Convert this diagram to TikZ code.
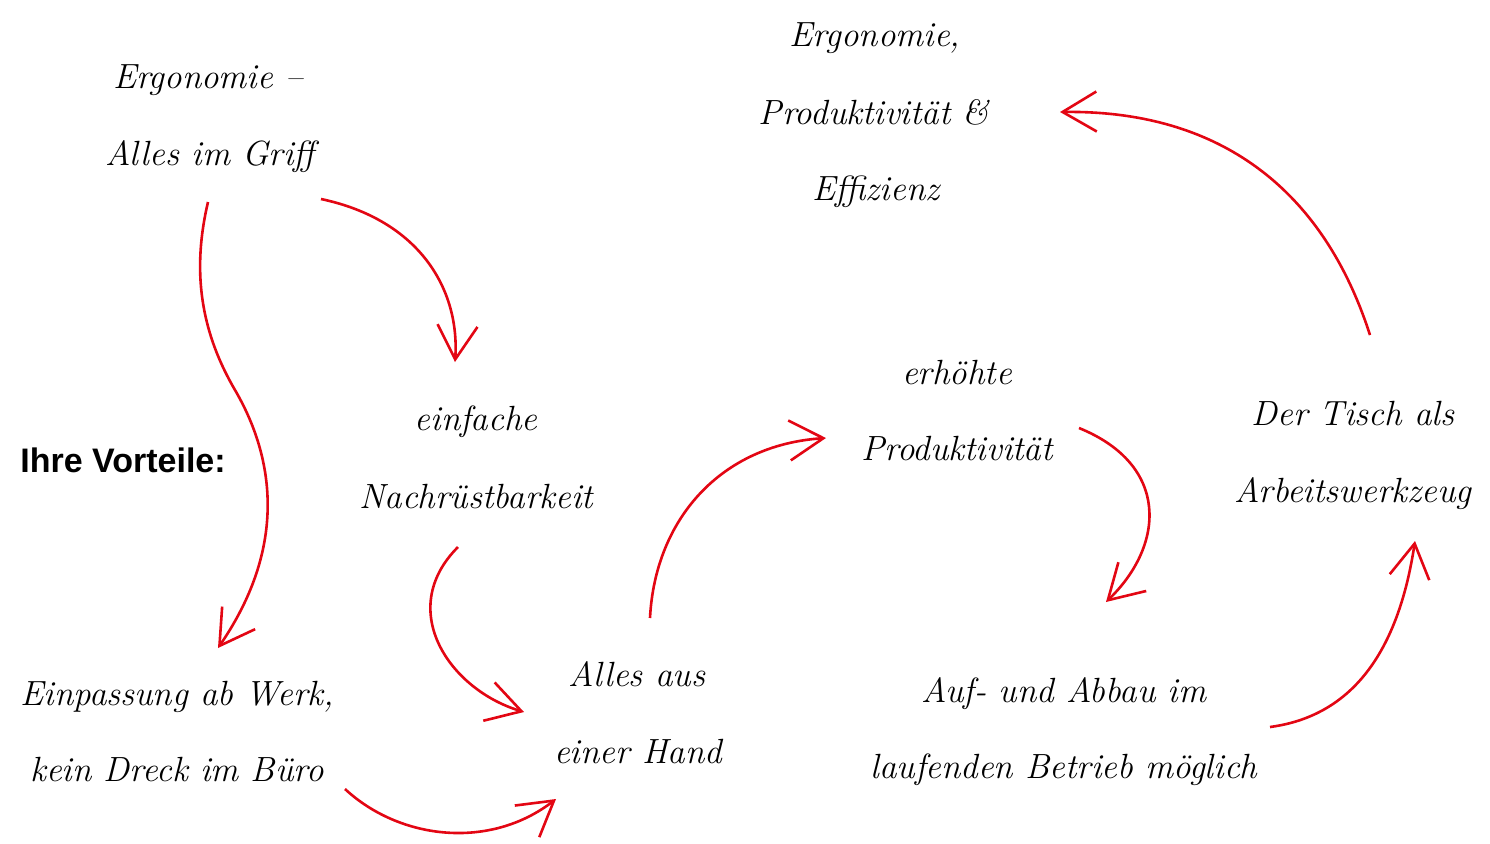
\documentclass[tikz,border=0pt]{standalone}
\usepackage{fontspec}
\newfontfamily\boldsans{Liberation Sans}
\usetikzlibrary{arrows.meta}
\definecolor{arrowred}{RGB}{227,6,19}
\tikzset{
  hand/.style={font=\fontsize{17.5}{22}\selectfont\itshape, anchor=base, inner sep=0pt},
  redarrow/.style={draw=arrowred, line width=1.3pt,
    -{Straight Barb[length=17pt,width=20pt,line width=1.3pt]}},
  label/.style={font=\fontsize{17}{20}\boldsans\bfseries, anchor=base west, inner sep=0pt}
}
\begin{document}
\begin{tikzpicture}[x=0.5pt,y=-0.5pt]
\useasboundingbox (0,0) rectangle (1490,843);
% texts
\node[hand] (ergo1) at (208,88) {Ergonomie --};
\node[hand] (ergo2) at (210,165) {Alles im Griff};
\node[hand] (prod1) at (875,46) {Ergonomie,};
\node[hand] (prod2) at (874,124) {Produktivität \&};
\node[hand] (prod3) at (876,200) {Effizienz};
\node[hand] (nach1) at (476,430) {einfache};
\node[hand] (nach2) at (476,508) {Nachrüstbarkeit};
\node[label] (vort) at (20,472) {Ihre Vorteile:};
\node[hand] (erh1) at (957,384) {erhöhte};
\node[hand] (erh2) at (957,460) {Produktivität};
\node[hand] (tisch1) at (1353,425) {Der Tisch als};
\node[hand] (tisch2) at (1353,502) {Arbeitswerkzeug};
\node[hand] (einp1) at (177,705) {Einpassung ab Werk,};
\node[hand] (einp2) at (177,781) {kein Dreck im Büro};
\node[hand] (hand1) at (637,686) {Alles aus};
\node[hand] (hand2) at (638,763) {einer Hand};
\node[hand] (auf1) at (1064,702) {Auf- und Abbau im};
\node[hand] (auf2) at (1064,778) {laufenden Betrieb möglich};
% arrow end points
\coordinate (a1s) at (208,202);  \coordinate (a1e) at (218,648);
\coordinate (a2s) at (321,199);  \coordinate (a2e) at (455,362);
\coordinate (a3s) at (458,547);  \coordinate (a3e) at (524,712);
\coordinate (a4s) at (345,789);  \coordinate (a4e) at (556,799);
\coordinate (a5s) at (650,618);  \coordinate (a5e) at (826,438);
\coordinate (a6s) at (1079,428); \coordinate (a6e) at (1106,602);
\coordinate (a7s) at (1270,727); \coordinate (a7e) at (1415,541);
\coordinate (a8s) at (1370,335); \coordinate (a8e) at (1060,112);
% arrows
\draw[redarrow] (a1s) .. controls (192,270) and (200,330) .. (235,390)
  .. controls (270,450) and (292,540) .. (a1e);
\draw[redarrow] (a2s) .. controls (420,220) and (460,290) .. (a2e);
\draw[redarrow] (a3s) .. controls (395,610) and (450,690) .. (a3e);
\draw[redarrow] (a4s) .. controls (400,840) and (490,850) .. (a4e);
\draw[redarrow] (a5s) .. controls (655,520) and (720,445) .. (a5e);
\draw[redarrow] (a6s) .. controls (1170,465) and (1165,545) .. (a6e);
\draw[redarrow] (a7s) .. controls (1360,715) and (1400,640) .. (a7e);
\draw[redarrow] (a8s) .. controls (1320,180) and (1210,110) .. (a8e);
\end{tikzpicture}
\end{document}
